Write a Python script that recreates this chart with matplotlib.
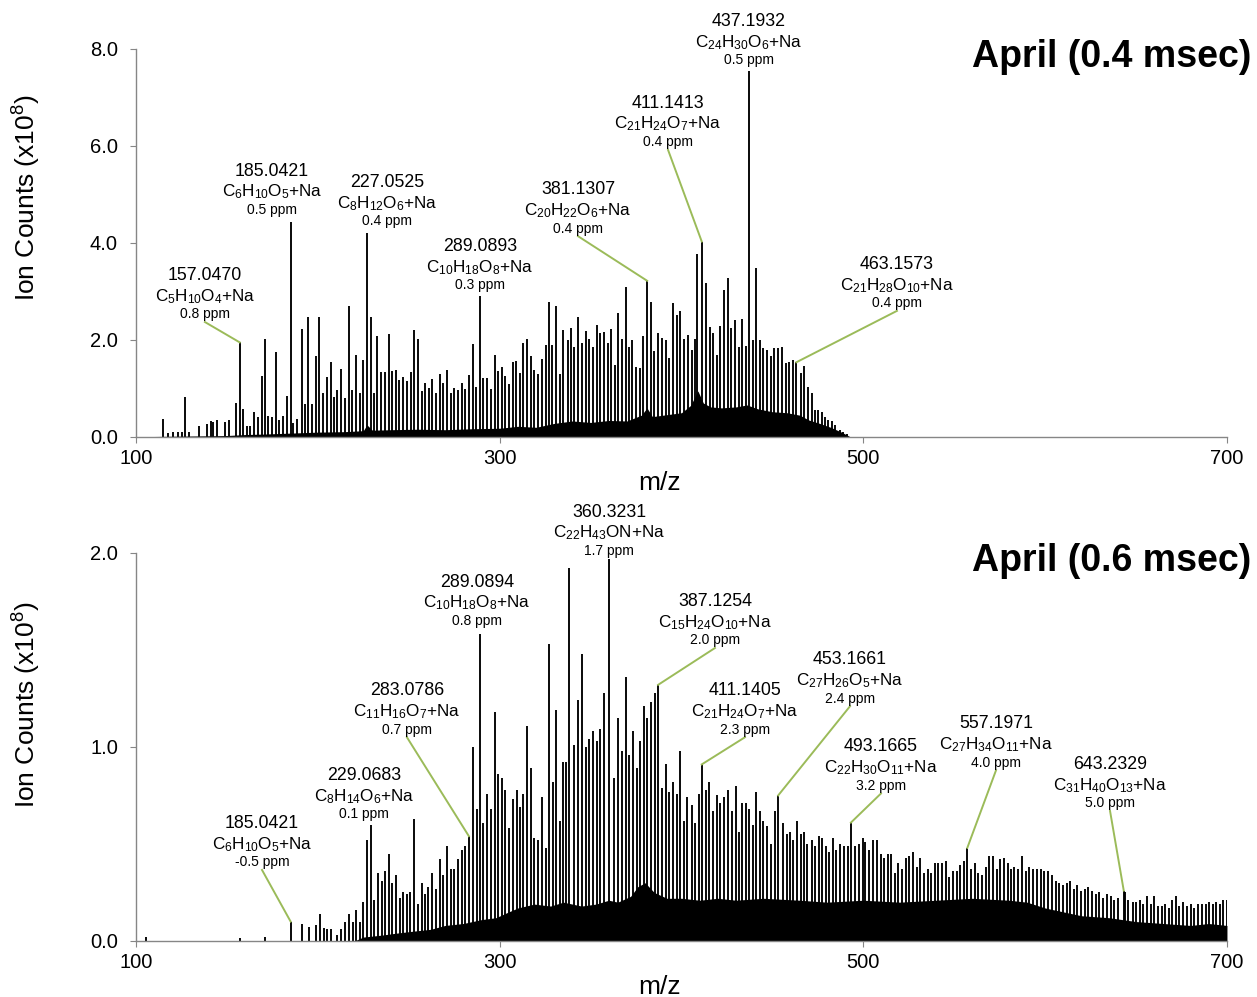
import matplotlib
matplotlib.use("Agg")
import matplotlib.pyplot as plt

plt.rcParams['font.family'] = ['Liberation Sans', 'DejaVu Sans']
plt.rcParams['mathtext.default'] = 'regular'

# ---- top spectrum (0.4 msec): main peaks, m/z and height (x1e8)
top_mz = [114.7, 117.8, 120.5, 122.9, 125.1, 126.9, 129.0, 134.6, 138.9, 141.1,
          142.5, 144.7, 148.9, 151.0, 155.0, 157.05, 159.0, 160.9, 162.7, 164.9,
          167.1, 169.3, 170.9, 172.8, 175.0, 177.0, 178.8, 181.0, 182.9, 185.04,
          186.5, 188.7, 191.1, 192.9, 194.8, 197.0, 198.8, 200.8, 202.8, 204.9,
          207.2, 208.9, 210.7, 212.7, 214.9, 217.0, 219.0, 221.0, 223.2, 225.0,
          227.05, 229.1, 230.9, 232.7, 234.6, 236.9, 239.0, 241.0, 242.8, 244.8,
          247.0, 248.9, 251.1, 252.9, 255.1, 257.1, 259.1, 261.1, 263.0, 265.0,
          267.2, 269.0, 270.9, 273.1, 275.1, 277.1, 279.1, 280.9, 283.1, 285.2,
          287.0, 289.09, 291.0, 293.2, 295.2, 297.2, 299.3, 301.1, 302.9, 305.0,
          307.1, 308.9, 311.2, 313.0, 315.2, 317.2, 319.0, 321.3, 323.1, 325.3,
          327.1, 329.0, 330.8, 333.2, 335.0, 337.4, 339.2, 340.9, 342.9, 345.1,
          347.3, 349.1, 351.5, 353.3, 355.2, 357.4, 359.4, 361.2, 363.4, 365.2,
          367.1, 369.3, 371.1, 372.9, 375.1, 377.2, 379.0, 381.13, 383.2, 385.0,
          387.3, 389.1, 391.3, 393.1, 395.1, 397.3, 399.1, 401.3, 403.4, 405.6,
          407.4, 408.3, 411.14, 413.4, 415.6, 417.4, 419.3, 421.1, 423.3, 425.4,
          427.2, 429.4, 431.4, 433.4, 435.4, 437.19, 439.1, 440.9, 443.2, 445.0,
          446.8, 449.0, 450.9, 453.3, 455.3, 457.3, 459.3, 461.5, 463.16, 465.5,
          467.4, 469.7, 471.6, 473.4, 475.2, 477.1, 478.9, 480.7, 482.6, 484.4,
          487.2, 489.0, 490.8]
top_h = [0.37, 0.09, 0.11, 0.10, 0.11, 0.83, 0.10, 0.23, 0.27, 0.32,
         0.30, 0.35, 0.30, 0.34, 0.70, 1.95, 0.57, 0.23, 0.23, 0.52,
         0.41, 1.26, 2.02, 0.44, 0.41, 1.75, 0.35, 0.43, 0.85, 4.43,
         0.28, 0.37, 2.23, 0.69, 2.47, 0.67, 1.66, 2.47, 0.90, 1.24,
         1.55, 0.83, 0.97, 1.40, 0.80, 2.70, 0.97, 1.69, 0.90, 1.59,
         4.20, 2.47, 0.90, 2.08, 1.35, 1.35, 2.12, 1.37, 1.38, 1.18,
         1.24, 1.16, 1.34, 2.21, 2.02, 0.95, 1.11, 1.00, 1.20, 0.90,
         1.30, 1.11, 1.38, 0.90, 1.02, 0.96, 1.11, 0.98, 1.27, 1.92,
         1.04, 2.91, 1.21, 1.21, 0.98, 1.68, 1.37, 1.45, 1.26, 1.10,
         1.55, 1.57, 1.31, 1.93, 2.01, 1.66, 1.38, 1.30, 1.60, 1.90,
         2.79, 1.90, 2.70, 1.30, 2.21, 2.00, 2.25, 1.86, 2.48, 1.93,
         2.19, 2.03, 1.86, 2.31, 2.15, 2.16, 1.93, 2.23, 1.48, 2.55,
         2.03, 3.10, 1.86, 2.00, 1.45, 1.42, 2.08, 3.22, 2.79, 1.78,
         2.15, 2.05, 2.00, 1.62, 2.76, 2.52, 2.60, 2.03, 2.10, 1.79,
         2.03, 3.77, 4.03, 3.18, 2.27, 2.14, 1.70, 2.29, 3.03, 3.27,
         2.24, 2.41, 1.86, 2.43, 1.88, 7.55, 2.00, 3.49, 2.00, 1.83,
         1.79, 1.66, 1.83, 1.83, 1.85, 1.52, 1.55, 1.59, 1.54, 1.31,
         1.47, 1.04, 0.90, 0.56, 0.56, 0.52, 0.42, 0.35, 0.32, 0.25,
         0.14, 0.11, 0.06]
# dense unresolved background (upper edge, read every few m/z)
top_env_mz = [100, 110, 130, 150, 160, 170, 185, 200, 215, 225, 227, 230, 240,
              255, 270, 285, 300, 310, 320, 330, 340, 350, 360, 370, 378, 381,
              384, 390, 400, 405, 409, 412, 416, 422, 430, 436, 442, 450, 458,
              465, 470, 476, 482, 488, 493]
top_env_h = [0, 0.01, 0.02, 0.03, 0.05, 0.06, 0.08, 0.10, 0.11, 0.13, 0.25,
             0.14, 0.15, 0.16, 0.15, 0.17, 0.18, 0.22, 0.20, 0.28, 0.33, 0.30,
             0.34, 0.33, 0.45, 0.60, 0.42, 0.45, 0.50, 0.65, 0.95, 0.70, 0.62,
             0.60, 0.62, 0.66, 0.58, 0.52, 0.50, 0.45, 0.35, 0.28, 0.20, 0.10,
             0]

# ---- bottom spectrum (0.6 msec)
bot_mz = [105.3, 157.2, 170.9, 185.04, 191.1, 195.1, 199.0, 201.2, 203.4, 205.2,
          207.1, 210.7, 212.7, 214.9, 217.0, 219.2, 221.0, 223.2, 225.0, 227.2,
          229.07, 230.9, 232.9, 235.1, 237.1, 239.1, 241.0, 243.0, 245.2, 247.0,
          248.9, 250.7, 252.9, 254.9, 257.1, 258.9, 260.8, 263.0, 265.0, 267.2,
          269.0, 270.9, 273.1, 275.1, 277.1, 279.1, 280.9, 283.08, 285.2, 287.4,
          289.09, 291.0, 293.2, 295.2, 297.2, 299.3, 301.1, 302.9, 305.3, 307.1,
          309.3, 311.2, 313.0, 315.2, 317.2, 319.1, 321.3, 323.1, 325.3, 327.3,
          329.1, 330.8, 333.2, 335.0, 336.5, 338.3, 340.9, 342.9, 345.1, 347.3,
          349.1, 351.5, 353.3, 355.2, 357.4, 360.32, 362.9, 365.3, 367.3, 369.3,
          371.3, 373.5, 375.3, 377.2, 379.4, 381.2, 383.2, 385.4, 387.13, 389.3,
          391.3, 393.3, 395.1, 397.3, 399.2, 401.4, 403.2, 405.6, 407.4, 409.6,
          411.14, 413.5, 415.3, 417.5, 419.3, 421.2, 423.4, 425.4, 427.6, 429.8,
          431.6, 433.4, 435.5, 437.3, 439.1, 441.0, 443.2, 445.0, 446.8, 449.0,
          451.4, 453.17, 455.6, 457.8, 459.7, 461.5, 463.7, 465.5, 467.5, 469.2,
          471.6, 473.4, 475.6, 477.4, 479.3, 481.3, 483.1, 485.0, 487.2, 489.3,
          491.4, 493.17, 495.4, 497.8, 499.6, 500.9, 503.3, 505.5, 507.3, 509.5,
          511.6, 513.4, 515.2, 517.4, 519.2, 521.3, 523.3, 525.3, 527.1, 529.3,
          531.2, 533.4, 535.4, 537.2, 539.4, 541.2, 543.4, 545.5, 547.3, 549.5,
          551.3, 553.2, 555.4, 557.2, 559.2, 561.4, 563.2, 565.4, 567.5, 569.3,
          571.1, 573.3, 575.2, 577.4, 579.4, 581.2, 583.0, 585.2, 587.4, 589.3,
          591.3, 593.5, 595.3, 597.5, 599.5, 601.7, 603.6, 605.8, 607.6, 609.6,
          611.8, 613.7, 615.9, 617.7, 619.7, 621.9, 623.7, 625.9, 627.8, 629.8,
          632.0, 633.8, 636.0, 638.0, 639.9, 643.23, 643.9, 645.7, 648.1, 650.0,
          652.2, 654.0, 655.8, 658.0, 660.0, 661.9, 664.1, 665.9, 668.3, 669.9,
          671.9, 673.8, 676.0, 678.2, 680.2, 682.0, 684.2, 686.1, 688.3, 690.1,
          692.1, 693.9, 696.1, 698.0, 699.8]
bot_h = [0.02, 0.015, 0.02, 0.10, 0.09, 0.07, 0.08, 0.14, 0.065, 0.06,
         0.06, 0.03, 0.06, 0.10, 0.14, 0.10, 0.16, 0.10, 0.20, 0.52,
         0.60, 0.21, 0.35, 0.31, 0.36, 0.45, 0.30, 0.34, 0.22, 0.25,
         0.24, 0.25, 0.63, 0.19, 0.30, 0.24, 0.28, 0.35, 0.27, 0.42,
         0.34, 0.49, 0.37, 0.37, 0.42, 0.47, 0.49, 0.54, 1.00, 0.68,
         1.58, 0.61, 0.76, 0.68, 1.18, 0.86, 0.84, 0.78, 0.58, 0.73,
         0.78, 0.69, 0.76, 1.11, 0.89, 0.53, 0.52, 0.74, 0.48, 1.53,
         0.82, 1.19, 0.62, 0.92, 0.92, 1.92, 1.01, 1.24, 1.48, 1.00,
         1.04, 1.08, 1.03, 1.09, 1.28, 1.97, 0.84, 1.15, 0.98, 1.36,
         0.96, 1.08, 0.89, 1.03, 1.21, 1.15, 1.23, 1.28, 1.32, 0.79,
         0.91, 0.77, 0.82, 0.76, 0.98, 0.62, 0.74, 0.70, 0.61, 0.76,
         0.91, 0.78, 0.82, 0.67, 0.75, 0.71, 0.74, 0.78, 0.67, 0.80,
         0.56, 0.71, 0.71, 0.68, 0.60, 0.77, 0.67, 0.62, 0.59, 0.50,
         0.67, 0.75, 0.61, 0.55, 0.56, 0.52, 0.62, 0.55, 0.56, 0.50,
         0.52, 0.49, 0.54, 0.53, 0.49, 0.46, 0.53, 0.47, 0.50, 0.49,
         0.49, 0.61, 0.49, 0.50, 0.53, 0.51, 0.47, 0.52, 0.52, 0.45,
         0.43, 0.45, 0.45, 0.35, 0.40, 0.37, 0.43, 0.44, 0.46, 0.38,
         0.43, 0.35, 0.37, 0.35, 0.40, 0.40, 0.40, 0.41, 0.33, 0.36,
         0.36, 0.39, 0.41, 0.48, 0.37, 0.40, 0.35, 0.34, 0.38, 0.44,
         0.44, 0.37, 0.42, 0.43, 0.40, 0.37, 0.38, 0.37, 0.44, 0.36,
         0.38, 0.37, 0.37, 0.37, 0.36, 0.36, 0.34, 0.31, 0.30, 0.29,
         0.30, 0.31, 0.27, 0.29, 0.26, 0.27, 0.28, 0.26, 0.24, 0.25,
         0.22, 0.24, 0.23, 0.21, 0.22, 0.26, 0.25, 0.21, 0.20, 0.20,
         0.21, 0.19, 0.23, 0.19, 0.23, 0.18, 0.18, 0.19, 0.17, 0.21,
         0.23, 0.18, 0.20, 0.18, 0.19, 0.17, 0.19, 0.19, 0.19, 0.20,
         0.19, 0.20, 0.19, 0.21, 0.21]
bot_env_mz = [100, 220, 225, 235, 243, 252, 262, 270, 280, 290, 298, 305, 310,
              319, 328, 335, 345, 353, 360, 365, 372, 376, 380, 385, 392, 400,
              410, 420, 430, 445, 465, 480, 500, 520, 540, 560, 580, 590, 600,
              610, 620, 635, 650, 665, 680, 690, 700]
bot_env_h = [0, 0, 0.02, 0.03, 0.04, 0.05, 0.06, 0.08, 0.09, 0.11, 0.12, 0.15,
             0.17, 0.19, 0.18, 0.20, 0.18, 0.19, 0.21, 0.20, 0.23, 0.28, 0.30,
             0.25, 0.22, 0.22, 0.21, 0.22, 0.21, 0.22, 0.21, 0.20, 0.21, 0.20,
             0.21, 0.22, 0.21, 0.20, 0.17, 0.15, 0.13, 0.12, 0.10, 0.09, 0.08,
             0.09, 0.08]

# ---- peak labels: mass, formula, ppm error, labelled peak (m/z, height)
top_mass = ['157.0470', '185.0421', '227.0525', '289.0893', '381.1307',
            '411.1413', '437.1932', '463.1573']
top_formula = [r'C$_{5}$H$_{10}$O$_{4}$+Na', r'C$_{6}$H$_{10}$O$_{5}$+Na',
               r'C$_{8}$H$_{12}$O$_{6}$+Na', r'C$_{10}$H$_{18}$O$_{8}$+Na',
               r'C$_{20}$H$_{22}$O$_{6}$+Na', r'C$_{21}$H$_{24}$O$_{7}$+Na',
               r'C$_{24}$H$_{30}$O$_{6}$+Na', r'C$_{21}$H$_{28}$O$_{10}$+Na']
top_ppm = ['0.8 ppm', '0.5 ppm', '0.4 ppm', '0.3 ppm', '0.4 ppm', '0.4 ppm',
           '0.5 ppm', '0.4 ppm']
top_peak = [(157.05, 1.95), None, None, None, (381.13, 3.22), (411.14, 4.03),
            None, (463.16, 1.54)]
# label anchor (centre, bottom of ppm line) in data units
top_lab_xy = [(137.9, 2.37), (174.8, 4.52), (238.0, 4.29), (289.2, 2.97),
              (343.1, 4.14), (392.6, 5.92), (437.1, 7.61), (518.5, 2.60)]

bot_mass = ['185.0421', '229.0683', '283.0786', '289.0894', '360.3231',
            '387.1254', '411.1405', '453.1661', '493.1665', '557.1971', '643.2329']
bot_formula = [r'C$_{6}$H$_{10}$O$_{5}$+Na', r'C$_{8}$H$_{14}$O$_{6}$+Na',
               r'C$_{11}$H$_{16}$O$_{7}$+Na', r'C$_{10}$H$_{18}$O$_{8}$+Na',
               r'C$_{22}$H$_{43}$ON+Na', r'C$_{15}$H$_{24}$O$_{10}$+Na',
               r'C$_{21}$H$_{24}$O$_{7}$+Na', r'C$_{27}$H$_{26}$O$_{5}$+Na',
               r'C$_{22}$H$_{30}$O$_{11}$+Na', r'C$_{27}$H$_{34}$O$_{11}$+Na',
               r'C$_{31}$H$_{40}$O$_{13}$+Na']
bot_ppm = ['-0.5 ppm', '0.1 ppm', '0.7 ppm', '0.8 ppm', '1.7 ppm', '2.0 ppm',
           '2.3 ppm', '2.4 ppm', '3.2 ppm', '4.0 ppm', '5.0 ppm']
bot_peak = [(185.04, 0.10), None, (283.08, 0.54), None, None, (387.13, 1.32),
            (411.14, 0.91), (453.17, 0.75), (493.17, 0.61), (557.2, 0.48),
            (643.23, 0.26)]
bot_lab_xy = [(169.3, 0.366), (225.4, 0.613), (249.0, 1.05), (287.5, 1.61),
              (360.1, 1.97), (418.4, 1.51), (434.9, 1.05), (492.7, 1.21),
              (509.7, 0.76), (573.0, 0.88), (635.7, 0.67)]

GREEN = '#9BBB59'
SPINE = '#868686'

fig = plt.figure(figsize=(12.57, 9.97), dpi=100)
ax1 = fig.add_axes([0.1082, 0.5617, 0.8679, 0.3892])
ax2 = fig.add_axes([0.1082, 0.0562, 0.8679, 0.3892])


def draw_panel(ax, mz, h, env_mz, env_h, ymax, yticks):
    ax.fill_between(env_mz, env_h, 0, color='black', lw=0)
    ax.vlines(mz, 0, h, color='black', lw=1.35)
    ax.set_xlim(100, 700)
    ax.set_ylim(0, ymax)
    ax.set_xticks([100, 300, 500, 700])
    ax.set_yticks(yticks)
    ax.set_yticklabels(['%.1f' % t for t in yticks])
    for s in ['top', 'right']:
        ax.spines[s].set_visible(False)
    for s in ['left', 'bottom']:
        ax.spines[s].set_color(SPINE)
        ax.spines[s].set_linewidth(1.0)
    ax.tick_params(colors=SPINE, labelcolor='black', labelsize=14.5, length=4)
    ax.tick_params(axis='y', pad=9)
    ax.tick_params(axis='x', pad=5)


def draw_labels(ax, masses, formulas, ppms, peaks, xys):
    for m, f, p, pk, (x, y) in zip(masses, formulas, ppms, peaks, xys):
        kw = dict(xy=(x, y), textcoords='offset points', ha='center', va='center',
                  annotation_clip=False)
        ax.annotate(m, xytext=(0, 33.5), fontsize=12.8, **kw)
        ax.annotate(f, xytext=(0, 18.5), fontsize=12.3, **kw)
        ax.annotate(p, xytext=(0, 5.5), fontsize=10, **kw)
        if pk is not None:
            ax.plot([x, pk[0]], [y, pk[1]], color=GREEN, lw=1.4, clip_on=False)


draw_panel(ax1, top_mz, top_h, top_env_mz, top_env_h, 8, [0, 2, 4, 6, 8])
draw_panel(ax2, bot_mz, bot_h, bot_env_mz, bot_env_h, 2, [0, 1, 2])
draw_labels(ax1, top_mass, top_formula, top_ppm, top_peak, top_lab_xy)
draw_labels(ax2, bot_mass, bot_formula, bot_ppm, bot_peak, bot_lab_xy)

fig.text(1251 / 1257, 1 - 57 / 997, 'April (0.4 msec)', ha='right', va='center',
         fontsize=27, fontweight='bold')
fig.text(1251 / 1257, 1 - 561 / 997, 'April (0.6 msec)', ha='right', va='center',
         fontsize=27, fontweight='bold')
fig.text(27 / 1257, 1 - 198 / 997, r'Ion Counts (x10$^{8}$)', rotation=90,
         ha='center', va='center', fontsize=19)
fig.text(27 / 1257, 1 - 705 / 997, r'Ion Counts (x10$^{8}$)', rotation=90,
         ha='center', va='center', fontsize=19)
fig.text(660 / 1257, 1 - 483 / 997, 'm/z', ha='center', va='center', fontsize=19)
fig.text(660 / 1257, 1 - 987 / 997, 'm/z', ha='center', va='center', fontsize=19)

fig.savefig('out.png', dpi=100)
